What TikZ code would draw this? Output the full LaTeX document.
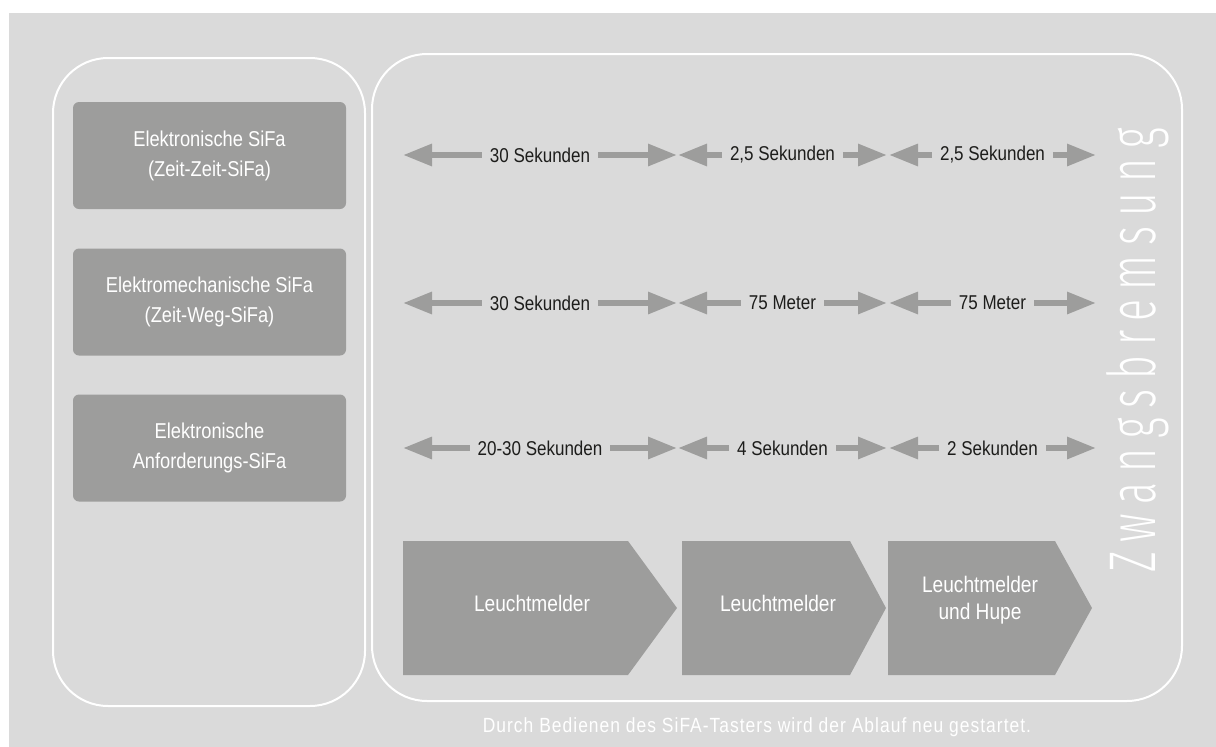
\documentclass[tikz,border=0pt]{standalone}
\usepackage{fontspec}
\setmainfont[FakeStretch=0.85]{Liberation Sans}
\newfontfamily\notefont[FakeStretch=0.85,LetterSpace=5]{Liberation Sans}
\newfontfamily\zwfont[FakeStretch=0.62,LetterSpace=15]{Fira Sans Light}
\usetikzlibrary{arrows.meta}
\definecolor{sifabg}{HTML}{DADADA}
\definecolor{sifagray}{HTML}{9D9D9C}
\definecolor{sifatext}{HTML}{1D1D1B}

\begin{document}
\begin{tikzpicture}[x=1pt,y=-1pt]
    \tikzstyle{frame}=[draw=white, line width=2pt, rounded corners=55pt]
    \tikzstyle{sifabox}=[fill=sifagray, rounded corners=6pt, minimum width=273pt, minimum height=107pt, text=white, align=center, font=\fontsize{21.5}{30}\selectfont]
    \tikzstyle{lbl}=[text=sifatext, font=\fontsize{20}{23}\selectfont, inner xsep=8pt, inner ysep=0pt, outer sep=0pt]
    \tikzstyle{shaft}=[draw=sifagray, line width=6pt, -{Triangle[length=29pt,width=21pt]}]
    \tikzstyle{chev}=[fill=sifagray]
    \tikzstyle{chevtext}=[text=white, align=center, font=\fontsize{22.5}{27}\selectfont]

    \fill[white] (0,0) rectangle (1216,747);
    \fill[sifabg] (9,13) rectangle (1216,747);
    \useasboundingbox (0,0) rectangle (1216,747);

    \draw[frame] (53,58) rectangle (365,706);
    \draw[frame] (372,54) rectangle (1182,701);

    % SiFa types
    \node[sifabox] (zeitzeit) at (209.5,155.5) {Elektronische SiFa\\(Zeit-Zeit-SiFa)};
    \node[sifabox] (zeitweg) at (209.5,302) {Elektromechanische SiFa\\(Zeit-Weg-SiFa)};
    \node[sifabox] (anford) at (209.5,448) {Elektronische\\Anforderungs-SiFa};

    % intervals
    \foreach \y/\ta/\tb/\tc [count=\r] in {155/{30 Sekunden}/{2,5 Sekunden}/{2,5 Sekunden},
                                          303/{30 Sekunden}/{75 Meter}/{75 Meter},
                                          448/{20-30 Sekunden}/{4 Sekunden}/{2 Sekunden}}
    {
      \foreach \s/\xl/\xc/\xr/\txt in {a/403/540/677/\ta, b/678/782.5/887/\tb, c/889/992.5/1096/\tc}
      {
        \node[lbl] (t\r\s) at (\xc,\y) {\txt};
        \coordinate (l\r\s) at (\xl,\y);
        \coordinate (r\r\s) at (\xr,\y);
        \draw[shaft] (t\r\s) -- (l\r\s);
        \draw[shaft] (t\r\s) -- (r\r\s);
      }
    }

    % signals
    \foreach \xl/\xc/\xr in {403/628/677, 682/850/886, 888/1055/1092}
      {\fill[chev] (\xl,541) -- (\xc,541) -- (\xr,608) -- (\xc,675) -- (\xl,675) -- cycle;}
    \node[chevtext] (lm1) at (532,603) {Leuchtmelder};
    \node[chevtext] (lm2) at (778,603) {Leuchtmelder};
    \node[chevtext] (lm3) at (980,600) {Leuchtmelder\\und Hupe};

    \node[rotate=90, anchor=base west, inner sep=0pt, text=white, font=\zwfont\fontsize{66}{66}\selectfont] (zwang) at (1155,573) {Zwangsbremsung};

    \node[text=white, font=\notefont\fontsize{20.5}{20.5}\selectfont] (note) at (757,727) {Durch Bedienen des SiFA-Tasters wird der Ablauf neu gestartet.};
\end{tikzpicture}
\end{document}
